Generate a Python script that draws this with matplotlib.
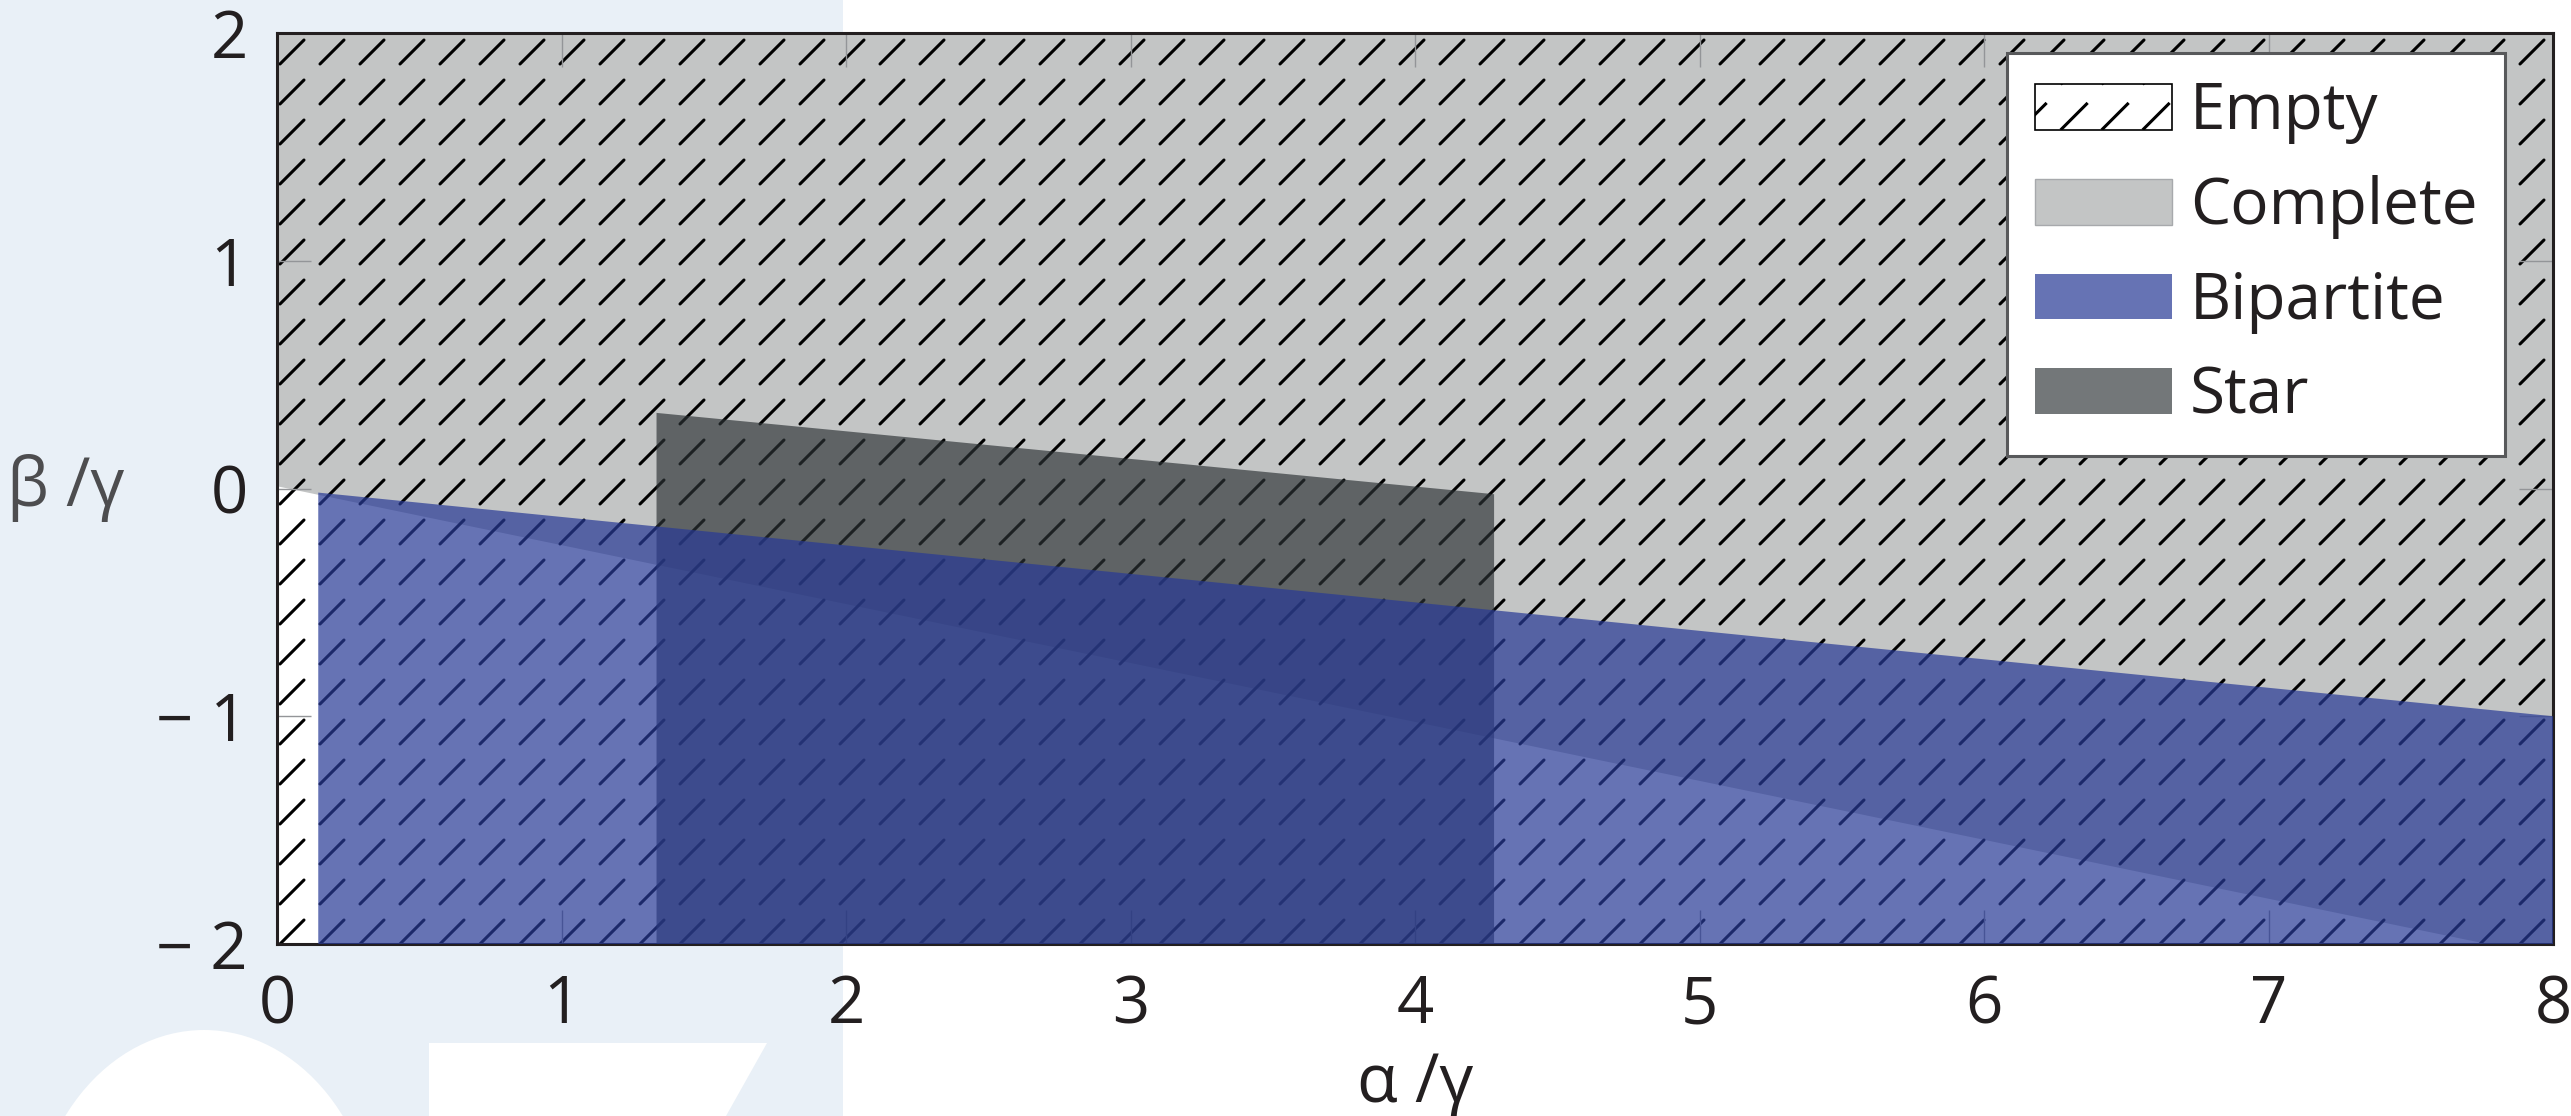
import numpy as np
import matplotlib
matplotlib.use("Agg")
import matplotlib.pyplot as plt
from matplotlib.patches import Rectangle, Ellipse, Polygon, Patch
from matplotlib.collections import LineCollection
from matplotlib.legend_handler import HandlerBase

plt.rcParams['font.family'] = ['Open Sans', 'DejaVu Sans']

# ---------------- data ----------------
alpha_ticks = [0, 1, 2, 3, 4, 5, 6, 7, 8]
alpha_ticklabels = ['0', '1', '2', '3', '4', '5', '6', '7', '8']
beta_ticks = [-2, -1, 0, 1, 2]
beta_ticklabels = ['\u2212 2', '\u2212 1', '0', '1', '2']

# Complete: region above this boundary
complete_alpha = [0.0, 8.0]
complete_beta_low = [0.01, -2.06]
# Bipartite: region below this boundary
bipartite_alpha = [0.145, 8.0]
bipartite_beta_high = [-0.018, -1.0]
# Star: region below this boundary
star_alpha = [1.334, 4.278]
star_beta_high = [0.332, -0.025]

legend_labels = ['Empty', 'Complete', 'Bipartite', 'Star']

# ---------------- styles ----------------
W, H = 2571, 1116
gray = '#c3c5c5'
blue_rgba = (40/255, 58/255, 150/255, 0.71)
star_rgba = (45/255, 51/255, 54/255, 0.667)
txt = '#231f20'

fig = plt.figure(figsize=(W/100, H/100), dpi=100)
fig.patch.set_facecolor('white')
# decorative background
fig.add_artist(Rectangle((0, 0), 843/W, 1, transform=fig.transFigure,
                         facecolor='#e9f0f7', edgecolor='none', zorder=-2))
fig.add_artist(Ellipse((2.04, -1.34), 3.5, 4.4, transform=fig.dpi_scale_trans,
                       facecolor='white', edgecolor='none', zorder=-1))
fig.add_artist(Polygon([(4.29, 0.73), (7.67, 0.73), (7.26, 0.0), (4.29, 0.0)],
                       closed=True, transform=fig.dpi_scale_trans,
                       facecolor='white', edgecolor='none', zorder=-1))

axl, axr, axt, axb = 277, 2553, 33, 944
ax = fig.add_axes([axl/W, (H-axb)/H, (axr-axl)/W, (axb-axt)/H])
ax.set_axisbelow(True)

ax.fill_between(complete_alpha, complete_beta_low, 2, facecolor=gray,
                edgecolor='none', zorder=0.2)

# dashed hatch ("Empty") over the whole axes
axw, axh = axr - axl, axb - axt
segs = []
for i in range(-1, 58):
    for j in range(0, 23):
        x0 = (3 + 40*i)/axw
        y0 = (40*j)/axh
        segs.append([(x0, y0), (x0 + 24/axw, y0 + 24/axh)])
ax.add_collection(LineCollection(segs, colors='black', linewidths=2.2,
                                 transform=ax.transAxes, zorder=0.4,
                                 capstyle='round'), autolim=False)

ax.fill_between(star_alpha, -2, star_beta_high, facecolor=star_rgba,
                edgecolor='none', zorder=1)
ax.fill_between(bipartite_alpha, -2, bipartite_beta_high, facecolor=blue_rgba,
                edgecolor='none', zorder=2)

ax.set_xlim(0, 8)
ax.set_ylim(-2, 2)

for s in ax.spines.values():
    s.set_linewidth(2.2)
    s.set_color(txt)
    s.set_zorder(0.6)

ax.set_xticks(alpha_ticks, alpha_ticklabels)
ax.set_yticks(beta_ticks, beta_ticklabels)
ax.tick_params(direction='in', length=24.5, width=1.0, color='#939598',
               top=True, right=True, labelsize=47, labelcolor=txt, pad=21)

ax.set_xlabel('\u03b1 /\u03b3', fontsize=48, color=txt)
ax.xaxis.set_label_coords(0.5, (axb - 1102)/axh)
ax.xaxis.label.set_va('baseline')
ax.set_ylabel('\u03b2 /\u03b3', rotation=0, fontsize=48, color='#4d4d4f')
ax.yaxis.set_label_coords((66 - axl)/axw, 0.5)
ax.yaxis.label.set_ha('center')
ax.yaxis.label.set_va('center')


class DashHatchHandler(HandlerBase):
    def create_artists(self, legend, orig_handle, xdescent, ydescent,
                       width, height, fontsize, trans):
        x0, y0 = -xdescent, -ydescent
        rect = Rectangle((x0, y0), width, height, facecolor='white',
                         edgecolor='black', linewidth=1.2, transform=trans)
        per = 41*0.72
        dl = 27*0.72
        s = []
        for k in range(-1, int(width/per) + 2):
            xs = x0 + 26*0.72 + k*per
            s.append([(xs, y0), (xs + dl, y0 + dl)])
            s.append([(xs, y0 + height), (xs + dl, y0 + height + dl)])
        lc = LineCollection(s, colors='black', linewidths=2.2, transform=trans)
        lc.set_clip_path(rect)
        return [rect, lc]


handles = [Patch(facecolor='white', edgecolor='black'),
           Patch(facecolor=gray, edgecolor='#a7a9ac', linewidth=1),
           Patch(facecolor=blue_rgba, edgecolor='none'),
           Patch(facecolor=star_rgba, edgecolor='none')]
leg = ax.legend(handles, legend_labels, loc='upper right',
                bbox_to_anchor=((2505 - axl)/axw, (axb - 53)/axh),
                borderaxespad=0, fontsize=46, handlelength=2.15,
                handleheight=0.72, handletextpad=0.28, labelspacing=0.48,
                borderpad=0.43, frameon=True, fancybox=False, framealpha=1,
                edgecolor='#58595b',
                handler_map={handles[0]: DashHatchHandler()})
leg.get_frame().set_linewidth(2.2)
leg.set_zorder(5)
for t in leg.get_texts():
    t.set_color(txt)

fig.savefig('out.png', dpi=100)
